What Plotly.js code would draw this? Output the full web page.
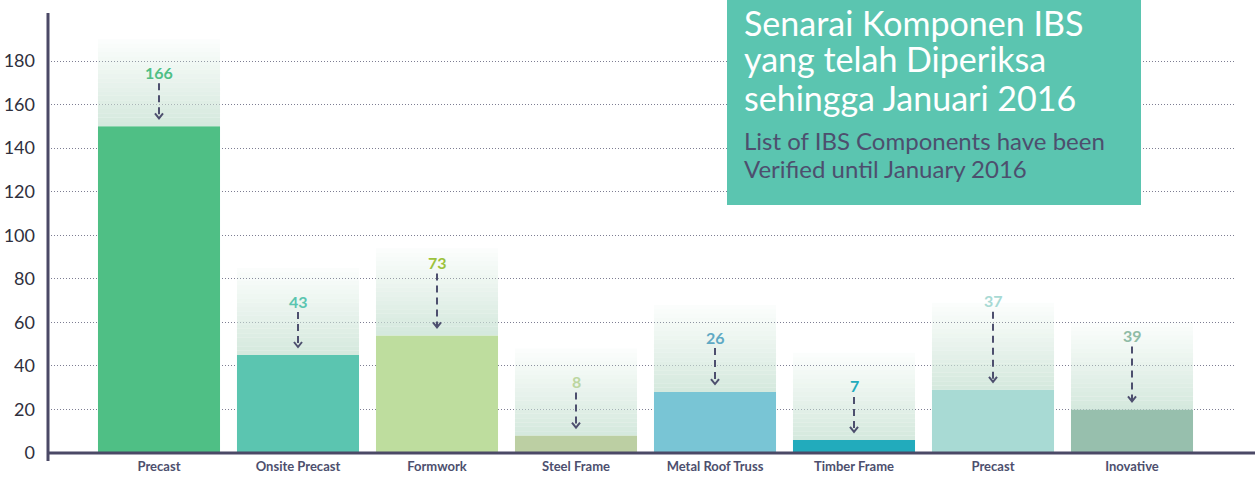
<!DOCTYPE html>
<html>
<head>
<meta charset="utf-8">
<script src="https://cdn.plot.ly/plotly-3.0.1.min.js"></script>
<style>
  html, body { margin: 0; padding: 0; background: #ffffff; }
  #chart { width: 1255px; height: 478px; }
</style>
</head>
<body>
<div id="chart"></div>
<script>
// ---- data ----
const categories = ["Precast", "Onsite Precast", "Formwork", "Steel Frame", "Metal Roof Truss", "Timber Frame", "Precast", "Inovative"];
const barValues = [150, 45, 54, 8, 28, 6, 29, 20];
const labelValues = [166, 43, 73, 8, 26, 7, 37, 39];
const yTickValues = [0, 20, 40, 60, 80, 100, 120, 140, 160, 180];
const titleLines = ["Senarai Komponen IBS", "yang telah Diperiksa", "sehingga Januari 2016"];
const subtitleLines = ["List of IBS Components have been", "Verified until January 2016"];

// ---- styles ----
const barColors = ["#4fbf85", "#5bc5b0", "#bedd9e", "#bccfa3", "#79c5d5", "#22abbc", "#a8dad4", "#97bfad"];
const labelColors = ["#4fbf85", "#5bc5b0", "#9cc23c", "#bcd6a0", "#5fa9c4", "#22abbc", "#a8dad4", "#8fbca6"];
const arrowLenPx = [35, 35, 54, 35, 36, 35, 70, 55];
const GHOST = 40, BANDS = 20;
const ink = "#4d4f6e";
const FONT = "Lato, 'Open Sans', sans-serif";

const W = 1255, H = 478;
const M = { l: 48, r: 19, t: 13, b: 25 };
const plotH = H - M.t - M.b;          // 440
const plotW = W - M.l - M.r;          // 1188
const pyPaper = px => (H - M.b - px) / plotH;
const pxPaperX = px => (px - M.l) / plotW;

const xIdx = categories.map((_, i) => i);

const traces = [];
traces.push({
  type: "bar", x: xIdx, y: barValues,
  marker: { color: barColors, line: { width: 0 } },
  hoverinfo: "skip", showlegend: false
});
// fading ghost above each bar
const step = GHOST / BANDS;
for (let k = 0; k < BANDS; k++) {
  const a = 0.8 * Math.pow(1 - k / BANDS, 0.95) + 0.03;
  traces.push({
    type: "bar", x: xIdx,
    y: barValues.map(() => step),
    base: barValues.map(v => v + k * step),
    marker: { color: `rgba(205,229,215,${a.toFixed(3)})`, line: { width: 0 } },
    hoverinfo: "skip", showlegend: false
  });
}

const shapes = [];
const annotations = [];
// title box
shapes.push({ type: "rect", xref: "paper", yref: "paper", layer: "above",
  x0: pxPaperX(727), x1: pxPaperX(1141), y0: pyPaper(205), y1: pyPaper(0),
  fillcolor: "#5bc5b0", line: { width: 0 } });
// axis lines
shapes.push({ type: "line", xref: "paper", yref: "paper", layer: "above",
  x0: 0, x1: 0, y0: pyPaper(461), y1: 1, line: { color: "#4b4966", width: 3 } });
shapes.push({ type: "line", xref: "paper", yref: "paper", layer: "above",
  x0: 0, x1: pxPaperX(1256), y0: 0, y1: 0, line: { color: "#4b4966", width: 3 } });

// value labels with dashed arrows
barValues.forEach((v, i) => {
  const gap = 8, L = arrowLenPx[i];
  shapes.push({ type: "line", xref: "x", yref: "y", ysizemode: "pixel", yanchor: v,
    x0: i, x1: i, y0: gap + L, y1: gap + 1,
    line: { color: ink, width: 2, dash: "7px,5px" } });
  shapes.push({ type: "path", xref: "x", yref: "y", xsizemode: "pixel", ysizemode: "pixel",
    xanchor: i, yanchor: v,
    path: `M-4,${gap + 5} L0,${gap} L4,${gap + 5}`,
    line: { color: ink, width: 2 } });
  annotations.push({ xref: "x", yref: "y", x: i, y: v, yshift: gap + L + 11,
    text: String(labelValues[i]), showarrow: false, xanchor: "center", yanchor: "middle",
    font: { family: FONT, size: 16, weight: 700, color: labelColors[i] } });
});

// title text
const titleMid = [22, 59, 97];
titleLines.forEach((t, i) => annotations.push({
  xref: "paper", yref: "paper", x: pxPaperX(743), y: pyPaper(titleMid[i]),
  xanchor: "left", yanchor: "middle", showarrow: false, text: t, borderpad: 0,
  font: { family: FONT, size: 34, color: "#ffffff" } }));
const subMid = [140, 168];
subtitleLines.forEach((t, i) => annotations.push({
  xref: "paper", yref: "paper", x: pxPaperX(743), y: pyPaper(subMid[i]),
  xanchor: "left", yanchor: "middle", showarrow: false, text: t, borderpad: 0,
  font: { family: FONT, size: 24, color: ink } }));

const layout = {
  width: W, height: H,
  margin: M,
  paper_bgcolor: "#ffffff", plot_bgcolor: "#ffffff",
  barmode: "overlay", bargap: 0.122,
  showlegend: false,
  xaxis: {
    range: [-(159 - M.l) / 139, -(159 - M.l) / 139 + plotW / 139],
    tickvals: xIdx, ticktext: categories,
    showgrid: false, zeroline: false, showline: false, ticks: "",
    ticklabelstandoff: 4,
    tickfont: { family: FONT, size: 13, weight: 700, color: ink },
    fixedrange: true
  },
  yaxis: {
    range: [0, plotH / (392 / 180)],
    tickvals: yTickValues,
    showgrid: true, gridcolor: "#7d7d92", gridwidth: 1, griddash: "1px,2px",
    zeroline: false, showline: false, ticks: "",
    ticklabelstandoff: 12,
    tickfont: { family: FONT, size: 18, color: "#2f2f3d" },
    fixedrange: true
  },
  shapes: shapes,
  annotations: annotations
};

Plotly.newPlot("chart", traces, layout, { displayModeBar: false, staticPlot: true });
</script>
</body>
</html>
